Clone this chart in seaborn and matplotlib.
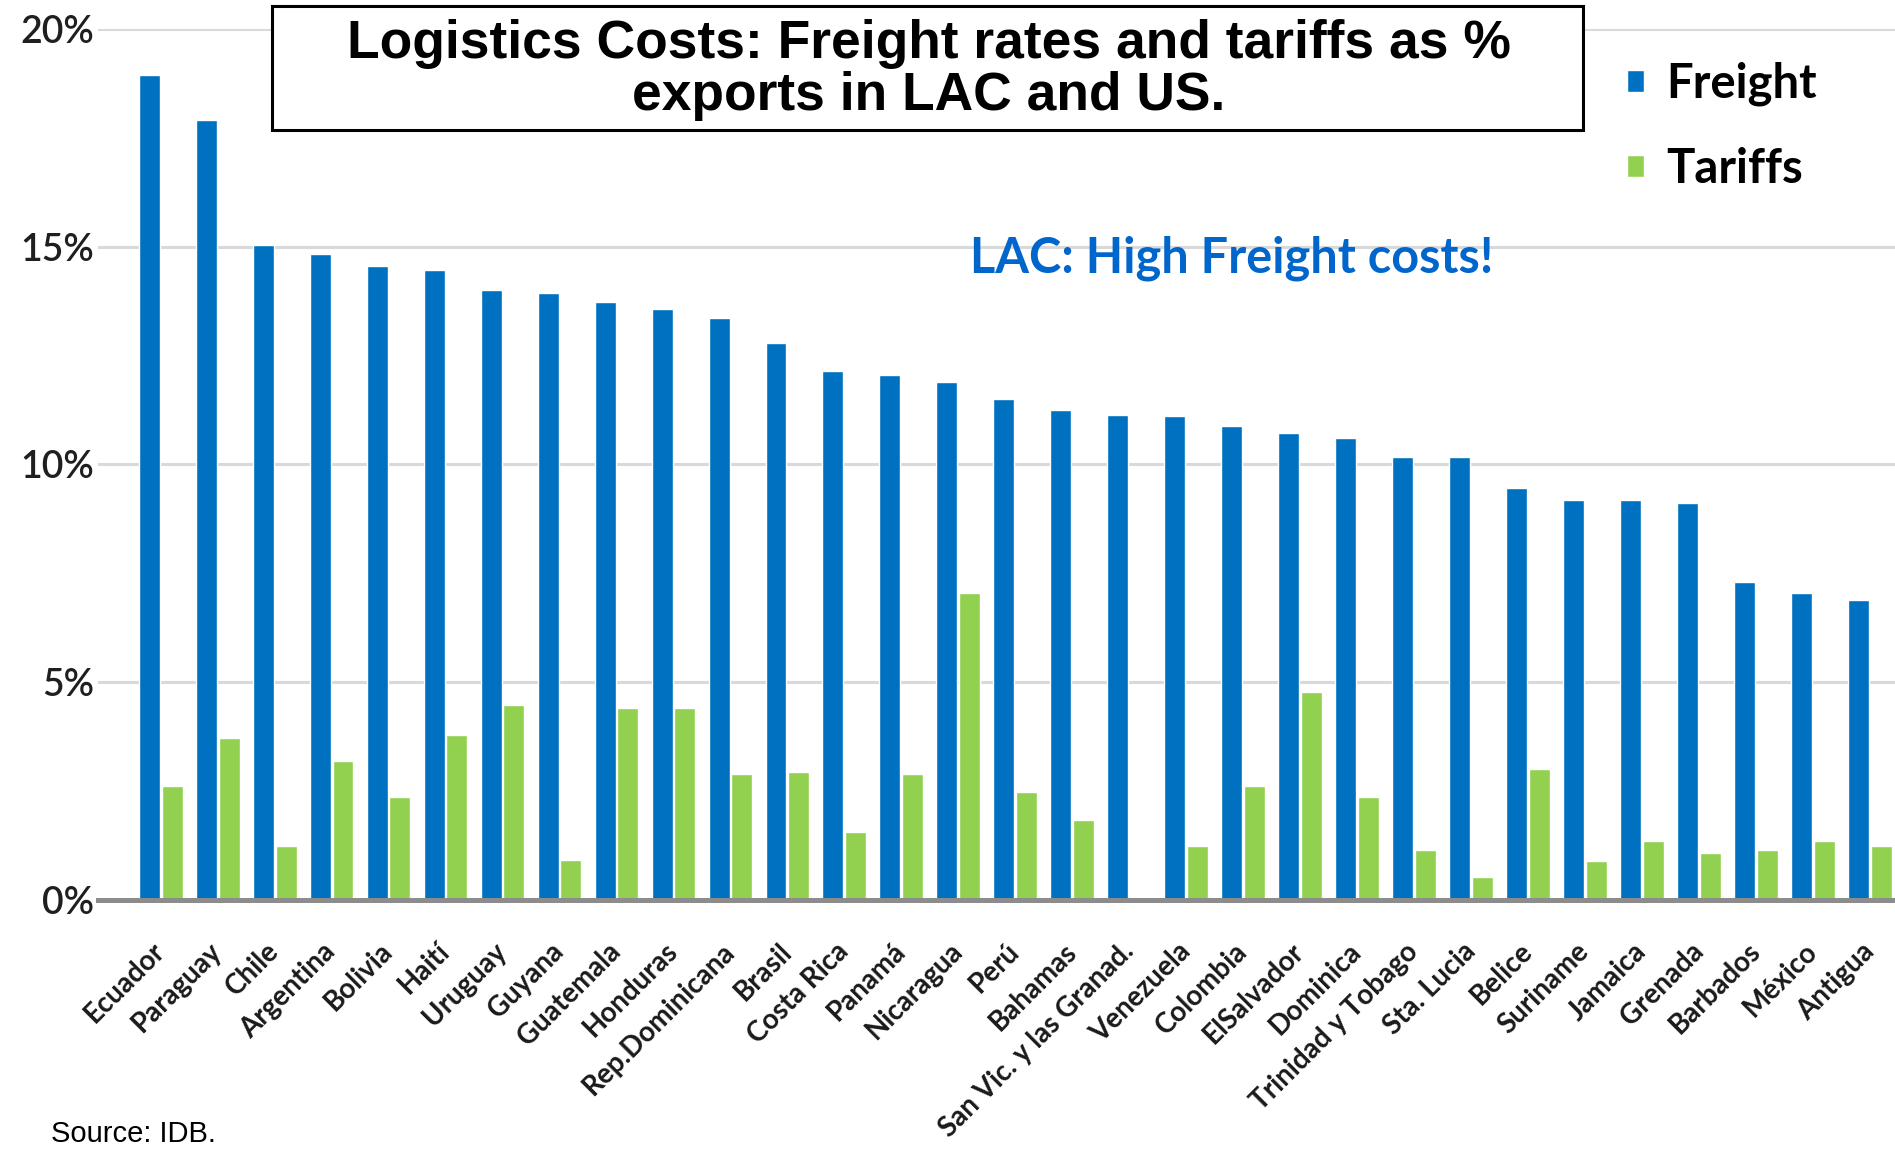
import matplotlib
matplotlib.use("Agg")
import matplotlib.pyplot as plt
from matplotlib.patches import Rectangle
import seaborn as sns
import pandas as pd

# Freight rates and tariffs as % of exports, by country
countries = [
    "Ecuador", "Paraguay", "Chile", "Argentina", "Bolivia", "Haití", "Uruguay",
    "Guyana", "Guatemala", "Honduras", "Rep.Dominicana", "Brasil", "Costa Rica",
    "Panamá", "Nicaragua", "Perú", "Bahamas", "San Vic. y las Granad.",
    "Venezuela", "Colombia", "ElSalvador", "Dominica", "Trinidad y Tobago",
    "Sta. Lucia", "Belice", "Suriname", "Jamaica", "Grenada", "Barbados",
    "México", "Antigua",
]
freight = [
    18.95, 17.9, 15.03, 14.83, 14.56, 14.47, 14.0, 13.94, 13.72, 13.56, 13.36,
    12.78, 12.14, 12.06, 11.89, 11.5, 11.25, 11.14, 11.11, 10.89, 10.72, 10.61,
    10.17, 10.17, 9.47, 9.19, 9.19, 9.11, 7.31, 7.06, 6.89,
]
tariffs = [
    2.61, 3.72, 1.25, 3.19, 2.36, 3.78, 4.47, 0.92, 4.42, 4.42, 2.89,
    2.94, 1.56, 2.89, 7.06, 2.47, 1.83, 0.08, 1.25, 2.61, 4.78, 2.36,
    1.14, 0.53, 3.0, 0.89, 1.36, 1.08, 1.14, 1.36, 1.25,
]
series_names = ["Freight", "Tariffs"]
series_colors = ["#0070C0", "#92D050"]
y_ticks = [0, 5, 10, 15, 20]

df = pd.DataFrame({
    "country": countries * 2,
    "series": [series_names[0]] * len(countries) + [series_names[1]] * len(countries),
    "value": freight + tariffs,
})

W, H = 1895, 1153
fig = plt.figure(figsize=(W / 100, H / 100), dpi=100)
sns.set_style("white")
plt.rcParams["font.family"] = ["Lato", "DejaVu Sans"]

# axes: left edge x=98, zero line y=900, 20% line y=29 (pixels)
ax = fig.add_axes([98 / W, 1 - 900 / H, (W - 98) / W, (900 - 29) / H])
sns.barplot(
    data=df, x="country", y="value", hue="series", order=countries,
    hue_order=series_names, palette=series_colors, width=0.8, gap=0.08,
    saturation=1, ax=ax, legend=True, errorbar=None,
)

ax.set_ylim(0, 20)
ax.set_xlim(-1.1, len(countries) - 1 + 0.44)
ax.set_yticks(y_ticks)
ax.set_yticklabels([f"{t}%" for t in y_ticks])
ax.set_xlabel("")
ax.set_ylabel("")

for s in ["top", "right", "left"]:
    ax.spines[s].set_visible(False)
ax.spines["bottom"].set_color("#8C8C8C")
ax.spines["bottom"].set_linewidth(3.6)
ax.spines["bottom"].set_zorder(5)
ax.yaxis.grid(True, color="#D9D9D9", linewidth=2.2)
ax.set_axisbelow(True)

ax.tick_params(axis="y", length=0, pad=3, labelsize=27, labelcolor="#1f1f1f")
ax.tick_params(axis="x", length=0, pad=34)
for lbl in ax.get_yticklabels():
    lbl.set_fontweight("semibold")
for lbl in ax.get_xticklabels():
    lbl.set_rotation(45)
    lbl.set_ha("right")
    lbl.set_va("center")
    lbl.set_rotation_mode("anchor")
    lbl.set_fontsize(20)
    lbl.set_fontweight("bold")
    lbl.set_color("#1a1a1a")

# legend at the upper right
handles, labels = ax.get_legend_handles_labels()
ax.legend(
    handles, labels, loc="upper left",
    bbox_to_anchor=(1627 / W, 1 - 62 / H), bbox_transform=fig.transFigure,
    frameon=False, handlelength=0.36, handleheight=0.36,
    handletextpad=0.47, labelspacing=0.86, borderaxespad=0, borderpad=0,
    prop={"weight": "bold", "size": 34},
)
for t in ax.get_legend().get_texts():
    t.set_color("black")

# boxed title
fig.patches.append(Rectangle(
    (272 / W, 1 - 130 / H), (1583 - 272) / W, (130 - 6) / H,
    transform=fig.transFigure, facecolor="white", edgecolor="black",
    linewidth=2.2, zorder=10,
))
title_font = dict(family=["Liberation Sans", "DejaVu Sans"], fontweight="bold",
                  fontsize=38.4, ha="center", va="baseline", color="black", zorder=11)
fig.text(929 / W, 1 - 58 / H, "Logistics Costs: Freight rates and tariffs as %", **title_font)
fig.text(929 / W, 1 - 110 / H, "exports in LAC and US.", **title_font)

# highlight note
fig.text(1232 / W, 1 - 258 / H, "LAC: High Freight costs!", color="#0066CC",
         fontsize=35, fontweight="bold", ha="center", va="center")

# source note
fig.text(51 / W, 1 - 1134 / H, "Source: IDB.", family=["Liberation Sans", "DejaVu Sans"],
         fontsize=21, ha="left", va="center", color="black")

fig.savefig("out.png", dpi=100)
